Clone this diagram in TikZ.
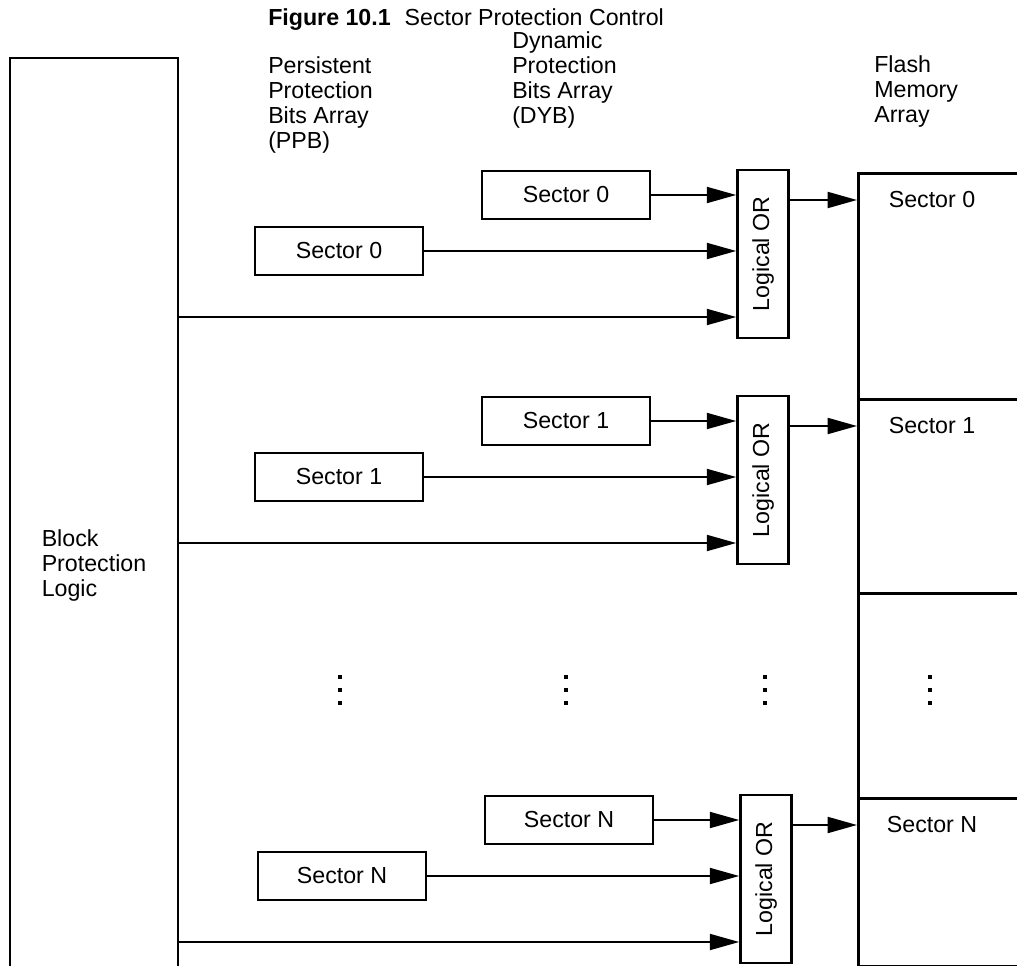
\documentclass[tikz,border=0pt]{standalone}
\usepackage{fontspec}
\setmainfont{Liberation Sans}
\usepackage{tikz}
\usetikzlibrary{arrows.meta}

\begin{document}
\begin{tikzpicture}[
    x=0.75pt, y=-0.75pt,
    every node/.style={font=\fontsize{17.4}{18.75}\selectfont},
    box/.style={draw, line width=2.2pt, inner sep=0pt},
    sector/.style={box, minimum width=126pt, minimum height=36pt},
    orbox/.style={box, minimum width=38pt, minimum height=126pt},
    flash/.style={box, anchor=north west, minimum width=182pt},
    header/.style={anchor=north west, align=left, inner sep=0pt},
    link/.style={-{Triangle[length=22pt, width=12pt]}, line width=1.4pt}
]
\useasboundingbox (0,0) rectangle (1017,966);
\clip (0,0) rectangle (1017,966);

\node[anchor=west, inner sep=0pt] (title) at (268,20) {\textbf{Figure 10.1}\hspace{0.6em}Sector Protection Control};

% column headers
\node[header] (ppbhead) at (268,56) {Persistent\\Protection\\Bits Array\\(PPB)};
\node[header] (dybhead) at (512,31) {Dynamic\\Protection\\Bits Array\\(DYB)};
\node[header] (flhead) at (874,55) {Flash\\Memory\\Array};

\node[box, minimum width=126pt, minimum height=760.5pt, align=left] (blk) at (94,565) {Block\\Protection\\Logic};

% flash memory array
\node[flash, minimum height=169.5pt] (fl0) at (857,172) {};
\node[flash, minimum height=145.5pt] (fl1) at (857,398) {};
\node[flash, minimum height=153.75pt] (fldots) at (857,592) {};
\node[flash, minimum height=126pt] (flN) at (857,797) {};

\foreach \n/\dx/\dy in {0/0/0, 1/0/226, N/3/625} {
    \node[sector] (dyb\n) at (566+\dx,195+\dy) {Sector \n};
    \node[sector] (ppb\n) at (339+\dx,251+\dy) {Sector \n};
    \node[orbox] (or\n) at (763+\dx,254+\dy) {\rotatebox{90}{Logical OR}};
    \node (ft\n) at (932,200+\dy) {Sector \n};
    \coordinate (bl\n) at (0,317+\dy);
    \draw[link] (dyb\n) -- (dyb\n -| or\n.west);
    \draw[link] (ppb\n) -- (ppb\n -| or\n.west);
    \draw[link] (blk.east |- bl\n) -- (or\n.west |- bl\n);
    \draw[link] (or\n.east |- ft\n) -- (fl\n.west |- ft\n);
}

% vertical dots
\foreach \x in {340,566,765,930}
    \foreach \y in {677,690,703}
        \fill (\x-2,\y-2) rectangle (\x+2,\y+2);
\end{tikzpicture}
\end{document}
